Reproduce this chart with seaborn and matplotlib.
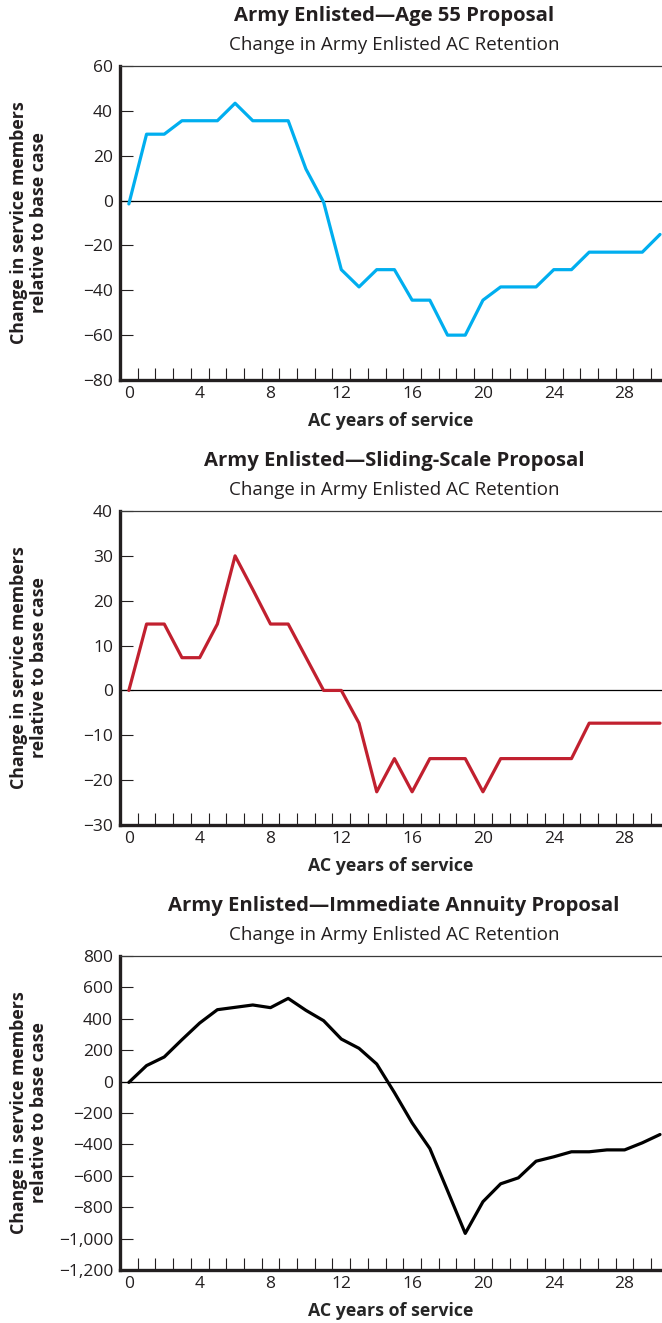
import numpy as np
import pandas as pd
import matplotlib
matplotlib.use("Agg")
import matplotlib.pyplot as plt
from matplotlib.ticker import FixedLocator, FuncFormatter
import seaborn as sns

# Years of active-component service
years = list(range(0, 31))

# Change in retained service members relative to the base case
age55 = [-1.5, 29.6, 29.6, 35.6, 35.6, 35.6, 43.4, 35.6, 35.6, 35.6,
         14.1, -0.7, -30.8, -38.5, -30.8, -30.8, -44.4, -44.4, -60.0, -60.0,
         -44.4, -38.5, -38.5, -38.5, -30.8, -30.8, -23.0, -23.0, -23.0, -23.0,
         -15.1]
sliding = [0.0, 14.8, 14.8, 7.3, 7.3, 14.8, 30.0, 22.5, 14.8, 14.8,
           7.4, 0.0, 0.0, -7.3, -22.6, -15.2, -22.6, -15.2, -15.2, -15.2,
           -22.6, -15.2, -15.2, -15.2, -15.2, -15.2, -7.3, -7.3, -7.3, -7.3,
           -7.3]
annuity = [-5, 102, 157, 267, 373, 458, 473, 488, 471, 530,
           454, 388, 271, 212, 112, -70, -263, -426, -695, -967,
           -765, -651, -613, -507, -479, -447, -447, -435, -435, -390,
           -337]

titles = ["Army Enlisted\u2014Age 55 Proposal",
          "Army Enlisted\u2014Sliding-Scale Proposal",
          "Army Enlisted\u2014Immediate Annuity Proposal"]
subtitle = "Change in Army Enlisted AC Retention"
xlabel = "AC years of service"
ylabel = "Change in service members\nrelative to base case"
xtick_labels = [0, 4, 8, 12, 16, 20, 24, 28]
yticks = [
    [-80, -60, -40, -20, 0, 20, 40, 60],
    [-30, -20, -10, 0, 10, 20, 30, 40],
    [-1200, -1000, -800, -600, -400, -200, 0, 200, 400, 600, 800],
]
colors = ["#00aeef", "#c1202f", "#000000"]

sns.set_style("ticks")
plt.rcParams["font.family"] = ["Open Sans", "DejaVu Sans"]
plt.rcParams["text.color"] = "#231f20"

W, H = 662, 1323
fig = plt.figure(figsize=(W / 100, H / 100), dpi=100)

series = [age55, sliding, annuity]
# axes boxes in pixel coordinates: (top, bottom)
boxes = [(66, 380), (511, 825), (956, 1270)]
left_px = 120


def fmt(v, pos):
    s = f"{v:,.0f}"
    return s.replace("-", "\u2212")


for i, (vals, (top, bot)) in enumerate(zip(series, boxes)):
    ax = fig.add_axes([left_px / W, 1 - bot / H, (W - left_px) / W, (bot - top) / H])
    df = pd.DataFrame({"year": years, "change": vals})
    ax.axhline(0, color="black", lw=0.9, zorder=1)
    sns.lineplot(data=df, x="year", y="change", ax=ax, color=colors[i],
                 lw=2.3, legend=False, zorder=3)
    x0 = -0.5
    x1 = 30 + (W - 660) / 17.7
    ax.set_xlim(x0, x1)
    ax.set_ylim(yticks[i][0], yticks[i][-1])

    ax.xaxis.set_major_locator(FixedLocator(xtick_labels))
    ax.xaxis.set_minor_locator(FixedLocator(np.arange(0.5, 30, 1.0)))
    ax.set_yticks(yticks[i])
    ax.yaxis.set_major_formatter(FuncFormatter(fmt))
    ax.tick_params(axis="x", which="major", length=0, pad=4.5,
                   labelsize=12.5, labelcolor="#231f20")
    ax.tick_params(axis="x", which="minor", direction="in", length=8.5,
                   width=0.8, color="#231f20")
    ax.tick_params(axis="y", which="major", direction="in", length=9.5,
                   width=0.8, pad=5, labelsize=12.5, labelcolor="#231f20",
                   color="#231f20")

    for side in ("left", "bottom"):
        ax.spines[side].set_linewidth(2.4)
        ax.spines[side].set_color("#231f20")
    ax.spines["top"].set_linewidth(0.9)
    ax.spines["top"].set_color("#3a3a3a")
    ax.spines["right"].set_visible(False)

    ax.set_xlabel(xlabel, fontsize=12.8, fontweight="bold", labelpad=7)
    ax.set_ylabel("")
    cy = 1 - ((top + bot) / 2) / H
    fig.text(29 / W, cy, ylabel, rotation=90, ha="center", va="center",
             fontsize=12.8, fontweight="bold", linespacing=1.1)

    fig.text(394 / W, 1 - (top - 50) / H, titles[i], ha="center", va="center",
             fontsize=14.6, fontweight="bold")
    fig.text(394 / W, 1 - (top - 21) / H, subtitle, ha="center", va="center",
             fontsize=13.5)

fig.savefig("out.png", dpi=100)
